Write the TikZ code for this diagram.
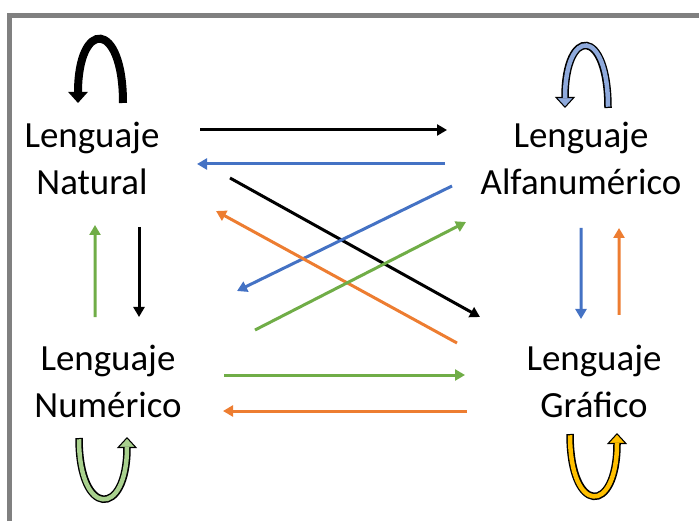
\documentclass[tikz,border=0pt]{standalone}
\usepackage{fontspec}
\setmainfont{Carlito}
\usepackage{tikz}
\usetikzlibrary{arrows.meta,calc}
\definecolor{office-blue}{RGB}{68,114,196}
\definecolor{office-orange}{RGB}{237,125,49}
\definecolor{office-green}{RGB}{112,173,71}
\definecolor{light-blue}{RGB}{143,170,220}
\definecolor{light-green}{RGB}{169,209,142}
\definecolor{office-gold}{RGB}{255,192,0}
\definecolor{frame-gray}{RGB}{128,128,128}
\tikzstyle{lang}=[align=center, inner sep=0pt, font=\fontsize{21}{26.75}\selectfont]
\tikzstyle{link}=[line width=0.06cm, -{Triangle[length=0.2cm,width=0.22cm]}]
\newcommand{\bandArrow}[5]{
	\draw[line width=0.15cm, -{Triangle[length=0.22cm,width=0.40cm,line width=0.6pt,fill=#1]}] #2 .. controls #3 and #4 .. #5;
	\draw[#1, line width=0.09cm, shorten <=0.025cm, shorten >=0.2cm] #2 .. controls #3 and #4 .. #5;
}

\begin{document}
\begin{tikzpicture}
	\useasboundingbox (0,0) rectangle (13.98,10.42);
	\draw[frame-gray, line width=0.1cm] (0.19,0) |- (13.98,10.11);
	\node[lang] (nat) at (1.84,7.26) {Lenguaje\\Natural};
	\node[lang] (alf) at (11.62,7.26) {Lenguaje\\Alfanumérico};
	\node[lang] (num) at (2.16,2.80) {Lenguaje\\Numérico};
	\node[lang] (gra) at (11.88,2.80) {Lenguaje\\Gráfico};
	% self loops
	\draw[line width=0.16cm, -{Triangle[length=0.22cm,width=0.38cm]}] ($(nat)+(0.62,1.10)$) .. controls ($(nat)+(0.62,2.78)$) and ($(nat)+(-0.28,2.78)$) .. ($(nat)+(-0.28,1.10)$);
	\bandArrow{light-blue}{($(alf)+(0.54,1.00)$)}{($(alf)+(0.54,2.63)$)}{($(alf)+(-0.32,2.63)$)}{($(alf)+(-0.32,1.00)$)}
	\bandArrow{light-green}{($(num)+(-0.58,-1.14)$)}{($(num)+(-0.58,-2.74)$)}{($(num)+(0.38,-2.74)$)}{($(num)+(0.38,-1.12)$)}
	\bandArrow{office-gold}{($(gra)+(-0.48,-1.06)$)}{($(gra)+(-0.48,-2.69)$)}{($(gra)+(0.46,-2.69)$)}{($(gra)+(0.46,-1.04)$)}
	% links
	\draw[link] ($(nat)+(2.16,0.56)$) -- ($(alf)+(-2.68,0.56)$);
	\draw[link, office-blue] ($(alf)+(-2.72,-0.12)$) -- ($(nat)+(2.10,-0.12)$);
	\draw[link] ($(nat)+(2.76,-0.40)$) -- ($(gra)+(-2.28,1.28)$);
	\draw[link, office-blue] ($(alf)+(-2.58,-0.56)$) -- ($(num)+(2.58,1.80)$);
	\draw[link, office-orange] ($(gra)+(-2.74,0.76)$) -- ($(nat)+(2.48,-1.06)$);
	\draw[link, office-green] ($(num)+(2.94,1.02)$) -- ($(alf)+(-2.30,-1.28)$);
	\draw[link, office-green] ($(num)+(-0.26,1.28)$) -- ($(nat)+(0.06,-1.34)$);
	\draw[link] ($(nat)+(0.94,-1.38)$) -- ($(num)+(0.62,1.28)$);
	\draw[link, office-blue] ($(alf)+(0,-1.40)$) -- ($(gra)+(-0.26,1.24)$);
	\draw[link, office-orange] ($(gra)+(0.50,1.32)$) -- ($(alf)+(0.76,-1.40)$);
	\draw[link, office-green] ($(num)+(2.32,0.12)$) -- ($(gra)+(-2.58,0.12)$);
	\draw[link, office-orange] ($(gra)+(-2.54,-0.60)$) -- ($(num)+(2.30,-0.60)$);
\end{tikzpicture}
\end{document}
